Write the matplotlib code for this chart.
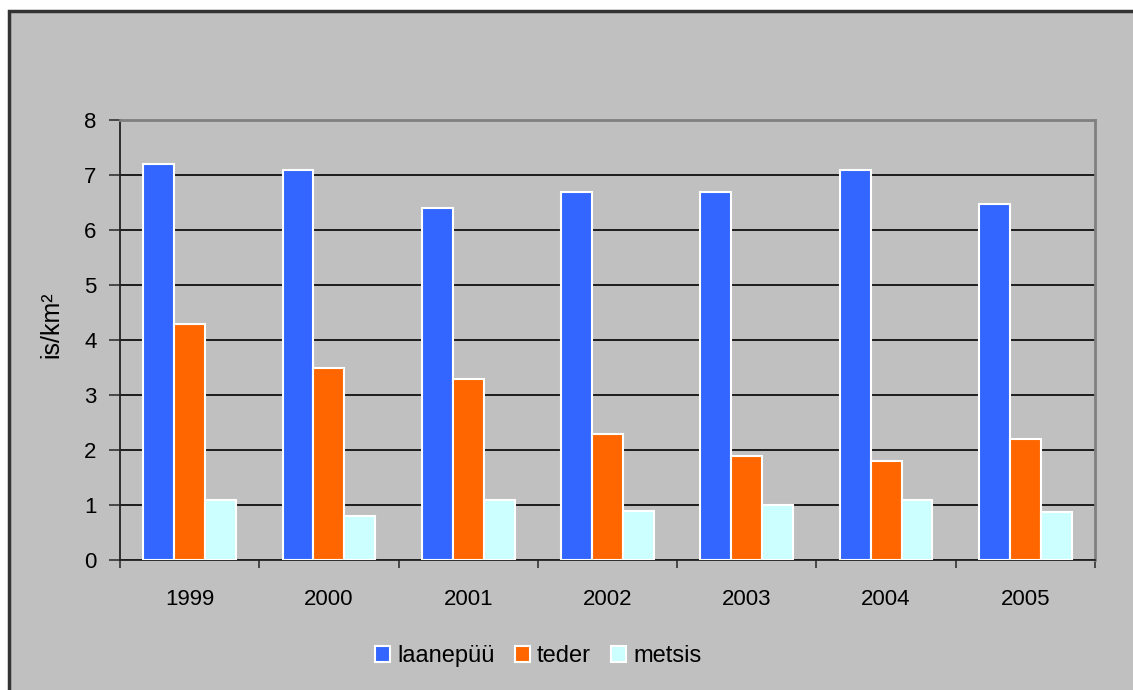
import numpy as np
import matplotlib
matplotlib.use('Agg')
import matplotlib.pyplot as plt
from matplotlib.patches import Rectangle

plt.rcParams['font.family'] = ['Liberation Sans', 'DejaVu Sans']

# andmed
years = ['1999', '2000', '2001', '2002', '2003', '2004', '2005']
laanepyy = [7.2, 7.1, 6.4, 6.7, 6.7, 7.1, 6.47]
teder = [4.3, 3.5, 3.3, 2.3, 1.9, 1.8, 2.2]
metsis = [1.1, 0.8, 1.1, 0.9, 1.0, 1.1, 0.87]

series = [('laanepüü', laanepyy, '#3366FF'),
          ('teder', teder, '#FF6600'),
          ('metsis', metsis, '#CCFFFF')]

W, H = 1133, 690
fig = plt.figure(figsize=(W / 100, H / 100), dpi=100, facecolor='white')

# hall taust koos raamiga
bg = Rectangle((9 / W, -0.05), 1.1, 1 - 11 / H + 0.05, transform=fig.transFigure,
               facecolor='#C0C0C0', edgecolor='#333333', linewidth=2.5, zorder=-5)
fig.patches.append(bg)

ax = fig.add_axes([120 / W, 130 / H, 975 / W, 440 / H])
ax.set_facecolor('#C0C0C0')

x = np.arange(len(years))
bw = 0.222
for i, (name, vals, col) in enumerate(series):
    ax.bar(x + (i - 1) * bw, vals, width=bw, color=col, edgecolor='white',
           linewidth=1.5, label=name, zorder=3)

ax.set_xlim(-0.5, len(years) - 0.5)
ax.set_ylim(0, 8)
ax.set_yticks(range(0, 9))
ax.yaxis.grid(True, color='black', linewidth=1.2, zorder=1)
ax.set_axisbelow(True)

# x-telje kriipsud kategooriate vahel
ax.set_xticks(np.arange(-0.5, len(years), 1.0))
ax.set_xticklabels([])
ax.set_xticks(x, minor=True)
ax.set_xticklabels(years, minor=True)
ax.tick_params(axis='x', which='major', direction='out', length=6, width=1.2, color='#333333')
ax.tick_params(axis='x', which='minor', length=0, pad=21, labelsize=16)
ax.tick_params(axis='y', direction='out', length=8, width=1.2, color='#333333',
               pad=9, labelsize=16)

for s in ['left', 'bottom']:
    ax.spines[s].set_color('#222222')
    ax.spines[s].set_linewidth(1.3)
for s in ['top', 'right']:
    ax.spines[s].set_color('#808080')
    ax.spines[s].set_linewidth(2)

ax.set_ylabel('is/km²', fontsize=18)
ax.yaxis.set_label_coords(-0.058, 0.534)

leg = fig.legend(loc='center', bbox_to_anchor=(538 / W, 1 - 656 / H), ncol=3,
                 frameon=False, fontsize=17, handlelength=0.64, handleheight=0.64,
                 handletextpad=0.3, columnspacing=0.85)

plt.savefig('out.png', dpi=100, facecolor='white')
